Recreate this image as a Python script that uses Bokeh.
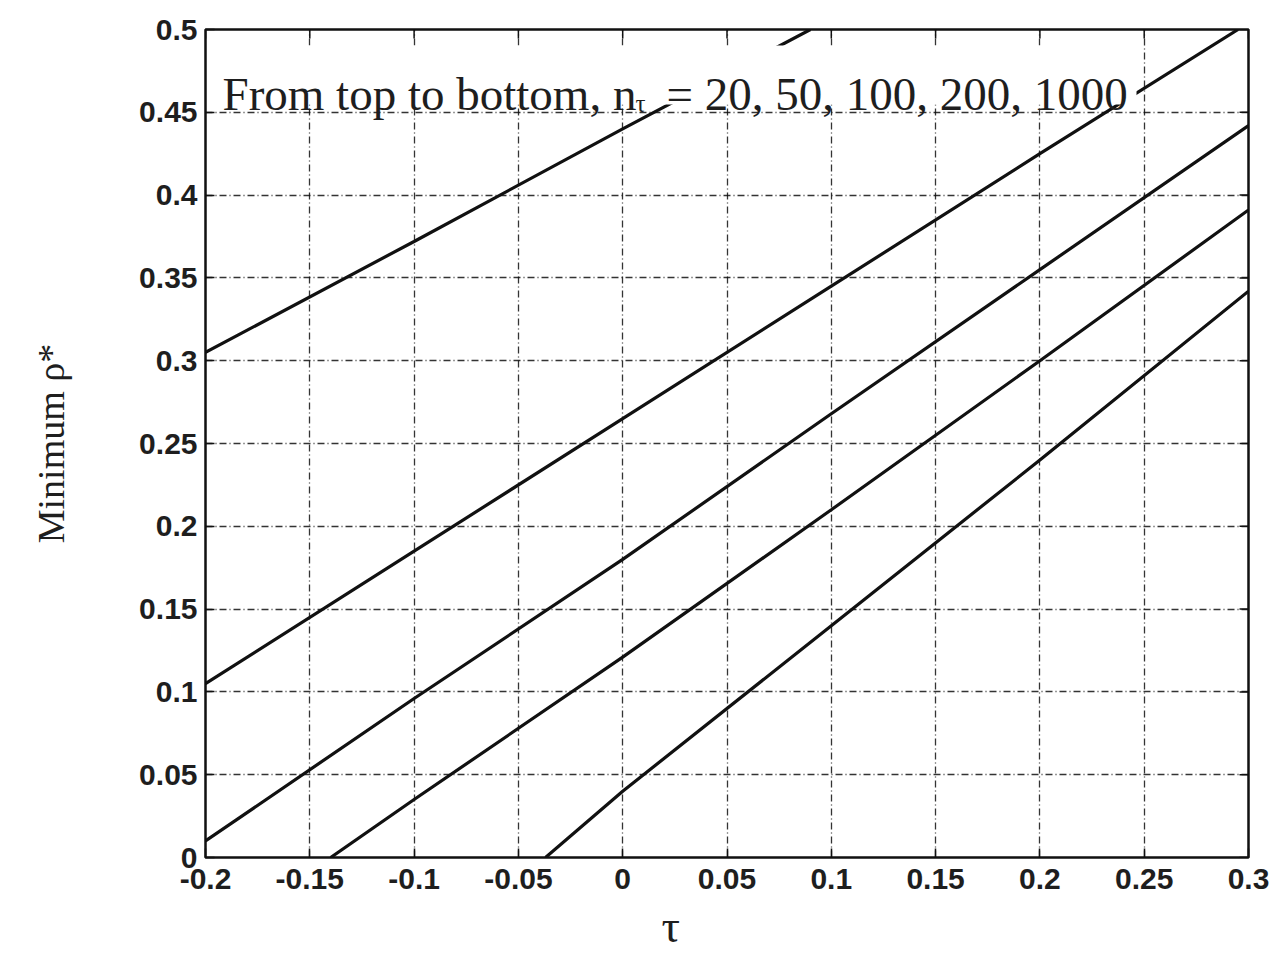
from bokeh.plotting import figure
from bokeh.models import (Range1d, FixedTicker, Label, Title, BoxAnnotation,
                          CustomJSTickFormatter)
from bokeh.embed import file_html
from bokeh.resources import INLINE

# ---------------- data ----------------
x_ticks = [-0.2, -0.15, -0.1, -0.05, 0.0, 0.05, 0.1, 0.15, 0.2, 0.25, 0.3]
y_ticks = [0.0, 0.05, 0.1, 0.15, 0.2, 0.25, 0.3, 0.35, 0.4, 0.45, 0.5]

tau_20 = [-0.2, -0.1, 0.0, 0.09]
rho_20 = [0.305, 0.372, 0.44, 0.50]

tau_50 = [-0.2, -0.1, 0.0, 0.1, 0.2, 0.295]
rho_50 = [0.105, 0.185, 0.265, 0.345, 0.425, 0.50]

tau_100 = [-0.2, -0.1, 0.0, 0.1, 0.2, 0.3]
rho_100 = [0.01, 0.096, 0.18, 0.268, 0.355, 0.442]

tau_200 = [-0.14, -0.1, 0.0, 0.1, 0.2, 0.3]
rho_200 = [0.0, 0.035, 0.121, 0.21, 0.30, 0.391]

tau_1000 = [-0.037, 0.0, 0.1, 0.2, 0.3]
rho_1000 = [0.0, 0.04, 0.14, 0.24, 0.342]

series = [(tau_20, rho_20), (tau_50, rho_50), (tau_100, rho_100),
          (tau_200, rho_200), (tau_1000, rho_1000)]

annot_a = "From top to bottom, n"
annot_sub = "τ"
annot_b = "= 20, 50, 100, 200, 1000"
x_title = "τ"
y_title = "Minimum ρ*"

# ---------------- layout ----------------
FL, FT, FW, FH = 205, 29, 1043, 828   # frame left/top/width/height (px)
W = FL + FW + 28
H = FT + FH + 102
X0, X1, Y0, Y1 = -0.2, 0.3, 0.0, 0.5
TICK_PX = 9


def px_to_x(px):
    return X0 + (px - FL) / FW * (X1 - X0)


def py_to_y(py):
    return Y1 - (py - FT) / FH * (Y1 - Y0)


p = figure(width=W, height=H, output_backend="svg", toolbar_location=None,
           x_range=Range1d(X0, X1), y_range=Range1d(Y0, Y1),
           min_border_left=FL, min_border_top=FT,
           min_border_right=W - FL - FW, min_border_bottom=H - FT - FH)
p.background_fill_color = "white"
p.border_fill_color = "white"
p.outline_line_color = "#111111"
p.outline_line_width = 2.5

fmt = CustomJSTickFormatter(code="return parseFloat(tick.toFixed(2)).toString();")

for ax in (p.xaxis[0], p.yaxis[0]):
    ax.major_label_text_font = "Liberation Sans"
    ax.major_label_text_font_style = "bold"
    ax.major_label_text_font_size = "30px"
    ax.major_label_text_color = "#1e1e1e"
    ax.major_tick_in = TICK_PX
    ax.major_tick_out = 0
    ax.minor_tick_in = 0
    ax.minor_tick_out = 0
    ax.axis_line_color = None
    ax.major_tick_line_color = "#111111"
    ax.major_tick_line_width = 1.5
    ax.formatter = fmt

p.xaxis[0].ticker = FixedTicker(ticks=x_ticks)
p.yaxis[0].ticker = FixedTicker(ticks=y_ticks)
p.xaxis[0].major_label_standoff = 11
p.yaxis[0].major_label_standoff = 8

p.yaxis[0].axis_label = y_title
p.yaxis[0].axis_label_text_font = "Liberation Serif"
p.yaxis[0].axis_label_text_font_style = "normal"
p.yaxis[0].axis_label_text_font_size = "38px"
p.yaxis[0].axis_label_text_color = "#1e1e1e"
p.yaxis[0].axis_label_standoff = 64

# x-axis title, placed left of centre as in the reference
p.add_layout(Title(text=x_title, align="left", offset=672 - FL - 11,
                   text_font="Liberation Serif", text_font_style="normal",
                   text_font_size="46px", text_color="#1e1e1e", standoff=14),
             "below")

# inward ticks mirrored on the top and right frame edges
dy = TICK_PX / FH * (Y1 - Y0)
dx = TICK_PX / FW * (X1 - X0)
p.segment(x0=x_ticks, y0=[Y1] * len(x_ticks), x1=x_ticks, y1=[Y1 - dy] * len(x_ticks),
          line_color="#111111", line_width=1.5)
p.segment(x0=[X1] * len(y_ticks), y0=y_ticks, x1=[X1 - dx] * len(y_ticks), y1=y_ticks,
          line_color="#111111", line_width=1.5)

# grid
for g in (p.xgrid[0], p.ygrid[0]):
    g.grid_line_color = "#111111"
    g.grid_line_alpha = 0.85
    g.grid_line_width = 1.3
    g.grid_line_dash = "7 3 1 3"
p.xgrid[0].ticker = FixedTicker(ticks=x_ticks)
p.ygrid[0].ticker = FixedTicker(ticks=y_ticks)

# curves
for tx, ry in series:
    p.line(tx, ry, line_color="#111111", line_width=3.2)

# white box behind the annotation text
p.add_layout(BoxAnnotation(left=px_to_x(213), right=px_to_x(1136),
                           top=py_to_y(45), bottom=py_to_y(104),
                           fill_color="white", fill_alpha=1.0, line_color=None))

# annotation text
serif = "Liberation Serif"
base_y = py_to_y(93)
common = dict(text_font=serif, text_color="#1e1e1e", text_baseline="alphabetic")
lab_a = Label(x=px_to_x(222), y=base_y, text=annot_a, text_font_size="47px", **common)
lab_sub = Label(x=px_to_x(635), y=py_to_y(103), text=annot_sub, text_font_size="25px",
                **common)
lab_b = Label(x=px_to_x(666), y=base_y, text=annot_b, text_font_size="47px", **common)
for lab in (lab_a, lab_b, lab_sub):
    p.add_layout(lab)

open("out.html", "w").write(file_html(p, INLINE))
